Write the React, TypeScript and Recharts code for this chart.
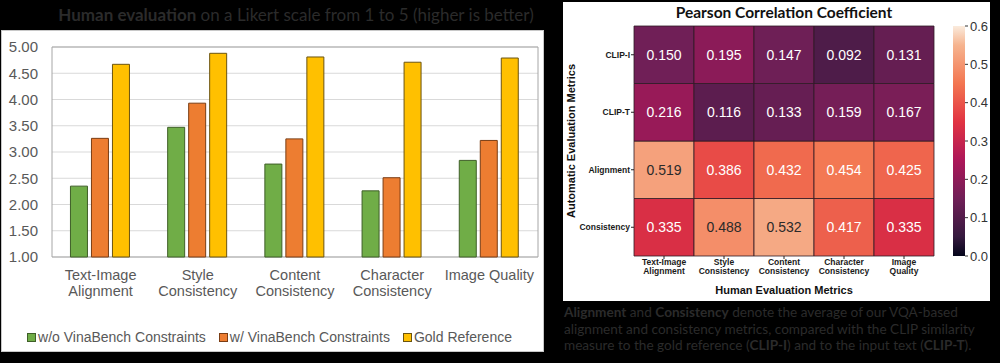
import React from 'react';
import {
  BarChart,
  Bar,
  XAxis,
  YAxis,
  CartesianGrid,
  Legend,
  ReferenceArea,
  Cell,
  LabelList,
} from 'recharts';

// ---------- Left chart data (Likert human evaluation) ----------
const categories = [
  'Text-Image Alignment',
  'Style Consistency',
  'Content Consistency',
  'Character Consistency',
  'Image Quality',
];
const categoryTickLines = [
  ['Text-Image', 'Alignment'],
  ['Style', 'Consistency'],
  ['Content', 'Consistency'],
  ['Character', 'Consistency'],
  ['Image Quality'],
];
const withoutConstraints = [2.35, 3.47, 2.77, 2.26, 2.84];
const withConstraints = [3.26, 3.93, 3.25, 2.51, 3.22];
const goldReference = [4.67, 4.88, 4.81, 4.71, 4.79];
const likertTicks = [1, 1.5, 2, 2.5, 3, 3.5, 4, 4.5, 5];
const seriesNames = ['w/o VinaBench Constraints', 'w/ VinaBench Constraints', 'Gold Reference'];
const seriesKeys = ['without', 'with', 'gold'];
const seriesFills = ['#70ad47', '#ed7d31', '#ffc000'];
const seriesStrokes = ['#3f5f28', '#7a3d14', '#6b5410'];

// ---------- Right chart data (Pearson correlation heatmap) ----------
const humanMetrics = categories;
const heatColumnLines = [
  ['Text-Image', 'Alignment'],
  ['Style', 'Consistency'],
  ['Content', 'Consistency'],
  ['Character', 'Consistency'],
  ['Image', 'Quality'],
];
const autoMetrics = ['CLIP-I', 'CLIP-T', 'Alignment', 'Consistency'];
const clipI = [0.15, 0.195, 0.147, 0.092, 0.131];
const clipT = [0.216, 0.116, 0.133, 0.159, 0.167];
const alignmentCorr = [0.519, 0.386, 0.432, 0.454, 0.425];
const consistencyCorr = [0.335, 0.488, 0.532, 0.417, 0.335];
const colorbarTicks = [0, 0.1, 0.2, 0.3, 0.4, 0.5, 0.6];
const colorbarMax = 0.6;

// rocket colormap anchors
const rocketStops: [number, string][] = [
  [0, '#03051a'],
  [0.083, '#35193e'],
  [0.25, '#701f57'],
  [0.417, '#ad1759'],
  [0.583, '#e13342'],
  [0.75, '#f37651'],
  [0.917, '#f6b48f'],
  [1, '#faebdd'],
];

const hexToRgb = (h: string) => [
  parseInt(h.slice(1, 3), 16),
  parseInt(h.slice(3, 5), 16),
  parseInt(h.slice(5, 7), 16),
];

const rocket = (v: number) => {
  const t = Math.max(0, Math.min(1, v / colorbarMax));
  for (let i = 0; i < rocketStops.length - 1; i++) {
    const [t0, c0] = rocketStops[i];
    const [t1, c1] = rocketStops[i + 1];
    if (t >= t0 && t <= t1) {
      const f = (t - t0) / (t1 - t0);
      const a = hexToRgb(c0);
      const b = hexToRgb(c1);
      const m = a.map((x, k) => Math.round(x + (b[k] - x) * f));
      return `rgb(${m[0]},${m[1]},${m[2]})`;
    }
  }
  return rocketStops[rocketStops.length - 1][1];
};

const ARIAL = '"Liberation Sans", Arial, sans-serif';
const HUMAN = 'Lato, "Open Sans", sans-serif';

const likertData = categories.map((c, i) => ({
  category: c,
  without: withoutConstraints[i],
  with: withConstraints[i],
  gold: goldReference[i],
}));

const heatMatrix = [clipI, clipT, alignmentCorr, consistencyCorr];
const heatData = humanMetrics.map((name, j) => {
  const row: Record<string, any> = { name };
  heatMatrix.forEach((vals, r) => {
    row[`u${r}`] = 1;
    row[`v${r}`] = vals[j];
  });
  return row;
});
const stackOrder = [3, 2, 1, 0];

const colorbarData = [{ name: 'scale', value: colorbarMax }];

// ---------- Components ----------
const LikertXTick = (props: any) => {
  const { x, y, payload } = props;
  const idx = categories.indexOf(payload.value);
  const lines = categoryTickLines[idx] || [payload.value];
  return (
    <g>
      {lines.map((ln, k) => (
        <text
          key={k}
          x={x}
          y={y + 23 + k * 16}
          textAnchor="middle"
          fontSize={14.5}
          fontFamily={ARIAL}
          fill="#595959"
        >
          {ln}
        </text>
      ))}
    </g>
  );
};

const LikertLegend = (props: any) => {
  const payload = [...(props.payload || [])].sort(
    (a: any, b: any) => seriesNames.indexOf(a.value) - seriesNames.indexOf(b.value)
  );
  return (
    <div
      style={{
        display: 'flex',
        justifyContent: 'center',
        alignItems: 'center',
        height: 22,
        fontFamily: ARIAL,
        fontSize: 14,
        color: '#595959',
        whiteSpace: 'nowrap',
      }}
    >
      {payload.map((p: any, i: number) => (
        <div key={i} style={{ display: 'flex', alignItems: 'center', marginRight: i < payload.length - 1 ? 13 : 0 }}>
          <span
            style={{
              display: 'inline-block',
              width: 7,
              height: 7,
              background: p.color,
              border: `1px solid ${seriesStrokes[seriesNames.indexOf(p.value)]}`,
              marginRight: 2,
            }}
          />
          <span>{p.value}</span>
        </div>
      ))}
    </div>
  );
};

const HeatXTick = (props: any) => {
  const { x, y, payload } = props;
  const idx = humanMetrics.indexOf(payload.value);
  const lines = heatColumnLines[idx] || [payload.value];
  return (
    <g>
      {lines.map((ln, k) => (
        <text
          key={k}
          x={x}
          y={y + 4 + k * 9}
          textAnchor="middle"
          fontSize={8.5}
          fontWeight="bold"
          fontFamily={ARIAL}
          fill="#1a1a1a"
        >
          {ln}
        </text>
      ))}
    </g>
  );
};

const CellLabel = (props: any) => {
  const { x, y, width, height, value } = props;
  const v = Number(value);
  return (
    <text
      x={x + width / 2}
      y={y + height / 2}
      textAnchor="middle"
      dominantBaseline="central"
      fontSize={14}
      fontFamily={ARIAL}
      fill={v > 0.47 ? '#2a2a2a' : '#ffffff'}
    >
      {v.toFixed(3)}
    </text>
  );
};

export default function App() {
  return (
    <div
      style={{
        position: 'absolute',
        left: 0,
        top: 0,
        width: 1000,
        height: 363,
        background: '#000',
        overflow: 'hidden',
      }}
    >
      {/* Left title */}
      <div
        style={{
          position: 'absolute',
          left: 0,
          top: 4,
          width: 592,
          textAlign: 'center',
          fontFamily: HUMAN,
          fontSize: 17,
          color: '#2b2b2b',
          whiteSpace: 'nowrap',
          lineHeight: '22px',
        }}
      >
        <b>Human evaluation</b> on a Likert scale from 1 to 5 (higher is better)
      </div>

      {/* Left chart */}
      <div
        style={{
          position: 'absolute',
          left: 1,
          top: 30,
          width: 543,
          height: 322,
          background: '#fff',
          boxShadow: 'inset 0 0 0 1px #c8c8c8',
        }}
      >
        <BarChart
          width={543}
          height={322}
          data={likertData}
          margin={{ top: 17, right: 6, left: 0, bottom: 4 }}
          barCategoryGap="19%"
          barGap={4}
        >
          <CartesianGrid vertical={false} stroke="#d9d9d9" />
          <XAxis
            dataKey="category"
            interval={0}
            tickLine={false}
            axisLine={false}
            tickSize={0}
            tickMargin={0}
            height={69}
            tick={<LikertXTick />}
          />
          <YAxis
            type="number"
            domain={[1, 5]}
            ticks={likertTicks}
            interval={0}
            width={51}
            tickLine={false}
            axisLine={false}
            tickSize={0}
            tickMargin={14}
            tickFormatter={(v: number) => v.toFixed(2)}
            tick={{ fontSize: 15, fontFamily: ARIAL, fill: '#595959' }}
          />
          <ReferenceArea y1={1} y2={5} fill="none" stroke="#a6a6a6" strokeWidth={1} ifOverflow="visible" />
          {seriesKeys.map((k, i) => (
            <Bar
              key={k}
              dataKey={k}
              name={seriesNames[i]}
              fill={seriesFills[i]}
              stroke={seriesStrokes[i]}
              strokeWidth={1}
              isAnimationActive={false}
            />
          ))}
          <Legend verticalAlign="bottom" align="center" content={<LikertLegend />} />
        </BarChart>
      </div>

      {/* Right panel */}
      <div
        style={{
          position: 'absolute',
          left: 563,
          top: 2,
          width: 427,
          height: 299,
          background: '#fff',
        }}
      >
        <div
          style={{
            position: 'absolute',
            left: 21,
            top: 0,
            width: 400,
            textAlign: 'center',
            fontFamily: HUMAN,
            fontWeight: 'bold',
            fontSize: 15.5,
            lineHeight: '21px',
            color: '#111',
            whiteSpace: 'nowrap',
          }}
        >
          Pearson Correlation Coefficient
        </div>
        <div style={{ position: 'absolute', left: 0, top: 0 }}>
          <BarChart
            width={427}
            height={299}
            data={heatData}
            margin={{ top: 24, right: 56, left: 0, bottom: 5 }}
            barCategoryGap={0}
            barGap={0}
          >
            <XAxis
              dataKey="name"
              interval={0}
              axisLine={false}
              tickLine={{ stroke: '#222' }}
              tickSize={3}
              tickMargin={2}
              height={40}
              tick={<HeatXTick />}
              label={{
                content: (p: any) => {
                  const vb = p.viewBox;
                  return (
                    <text
                      x={vb.x + vb.width / 2}
                      y={vb.y + 34}
                      textAnchor="middle"
                      dominantBaseline="central"
                      fontSize={11}
                      fontWeight="bold"
                      fontFamily={ARIAL}
                      fill="#111"
                    >
                      Human Evaluation Metrics
                    </text>
                  );
                },
              }}
            />
            <YAxis
              type="number"
              domain={[0, 4]}
              ticks={[0.5, 1.5, 2.5, 3.5]}
              interval={0}
              width={71}
              axisLine={false}
              tickLine={{ stroke: '#222' }}
              tickSize={3}
              tickMargin={1}
              tickFormatter={(v: number) => autoMetrics[3 - Math.floor(v)]}
              tick={{ fontSize: 8.5, fontWeight: 'bold', fontFamily: ARIAL, fill: '#1a1a1a' }}
              label={{
                content: (p: any) => {
                  const vb = p.viewBox;
                  const cx = vb.x + 7.5;
                  const cy = vb.y + vb.height / 2;
                  return (
                    <text
                      x={cx}
                      y={cy}
                      transform={`rotate(-90, ${cx}, ${cy})`}
                      textAnchor="middle"
                      dominantBaseline="central"
                      fontSize={11}
                      fontWeight="bold"
                      fontFamily={ARIAL}
                      fill="#111"
                    >
                      Automatic Evaluation Metrics
                    </text>
                  );
                },
              }}
            />
            {stackOrder.map((r) => (
              <Bar
                key={r}
                dataKey={`u${r}`}
                stackId="heat"
                stroke="#2e1a24"
                strokeWidth={0.8}
                isAnimationActive={false}
              >
                {heatData.map((d, j) => (
                  <Cell key={j} fill={rocket(d[`v${r}`])} />
                ))}
                <LabelList dataKey={`v${r}`} content={<CellLabel />} />
              </Bar>
            ))}
          </BarChart>
        </div>

        {/* Colorbar */}
        <div style={{ position: 'absolute', left: 390, top: 0 }}>
          <BarChart
            width={37}
            height={299}
            data={colorbarData}
            margin={{ top: 24, right: 0, left: 0, bottom: 45 }}
            barCategoryGap={0}
          >
            <defs>
              <linearGradient id="rocketGrad" x1="0" y1="1" x2="0" y2="0">
                {rocketStops.map(([t, c], i) => (
                  <stop key={i} offset={`${t * 100}%`} stopColor={c} />
                ))}
              </linearGradient>
            </defs>
            <XAxis dataKey="name" hide />
            <YAxis
              type="number"
              orientation="right"
              domain={[0, colorbarMax]}
              ticks={colorbarTicks}
              interval={0}
              width={25}
              axisLine={false}
              tickLine={{ stroke: '#333' }}
              tickSize={3}
              tickMargin={2}
              tickFormatter={(v: number) => v.toFixed(1)}
              tick={{ fontSize: 13, fontFamily: ARIAL, fill: '#333' }}
            />
            <Bar dataKey="value" fill="url(#rocketGrad)" isAnimationActive={false} />
          </BarChart>
        </div>
      </div>

      {/* Caption */}
      <div
        style={{
          position: 'absolute',
          left: 564,
          top: 304,
          fontFamily: HUMAN,
          fontSize: 13.6,
          lineHeight: '16.5px',
          color: '#2b2b2b',
          whiteSpace: 'nowrap',
        }}
      >
        <b>Alignment</b> and <b>Consistency</b> denote the average of our VQA-based
        <br />
        alignment and consistency metrics, compared with the CLIP similarity
        <br />
        measure to the gold reference (<b>CLIP-I</b>) and to the input text (<b>CLIP-T</b>).
      </div>
    </div>
  );
}
